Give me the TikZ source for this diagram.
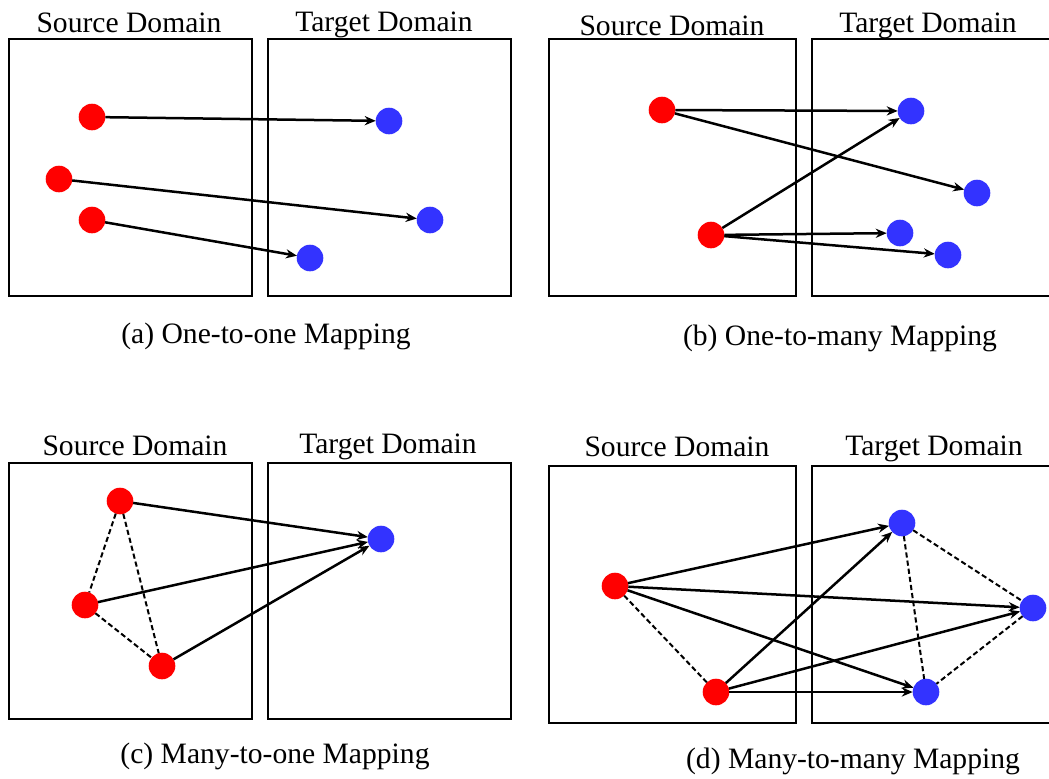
\documentclass[tikz,border=0pt]{standalone}
\usepackage{fontspec}
\setmainfont{Liberation Serif}
\usetikzlibrary{arrows.meta}
\definecolor{srcred}{RGB}{255,0,0}
\definecolor{tgtblue}{RGB}{51,51,255}

\begin{document}
\begin{tikzpicture}[
	x=0.5pt, y=-0.5pt,
	font=\fontsize{14.8}{17}\selectfont,
	domain box/.style = {draw, line width=0.7pt},
	src dot/.style = {circle, fill=srcred, minimum size=13.3pt,
	                  inner sep=0pt, outer sep=0pt},
	tgt dot/.style = {circle, fill=tgtblue, minimum size=13.3pt,
	                  inner sep=0pt, outer sep=0pt},
	map arrow/.style = {-{Stealth[length=5.5pt,width=4.6pt]}, line width=1.25pt},
	link line/.style = {dash pattern=on 2.6pt off 1.5pt, line width=1pt},
	title/.style = {anchor=base, inner sep=0pt}
	]
\useasboundingbox (0,0) rectangle (1049,778);

% (a) one-to-one
\draw[domain box] (9,39) rectangle (252,296);
\draw[domain box] (268,39) rectangle (511,296);
\node[title] (a-src) at (129,32) {Source Domain};
\node[title] (a-tgt) at (384,31) {Target Domain};
\node[title] (a-cap) at (266,343) {(a) One-to-one Mapping};
\node[src dot] (a-s1) at (92,117) {};
\node[src dot] (a-s2) at (59,179) {};
\node[src dot] (a-s3) at (92,220) {};
\node[tgt dot] (a-t1) at (389,121) {};
\node[tgt dot] (a-t2) at (430,220) {};
\node[tgt dot] (a-t3) at (310,258) {};
\draw[map arrow] (a-s1) -- (a-t1);
\draw[map arrow] (a-s2) -- (a-t2);
\draw[map arrow] (a-s3) -- (a-t3);

% (b) one-to-many
\draw[domain box] (549,39) rectangle (796,296);
\draw[domain box] (1052,39) -- (812,39) -- (812,296) -- (1052,296);
\node[title] (b-src) at (672,35) {Source Domain};
\node[title] (b-tgt) at (928,32) {Target Domain};
\node[title] (b-cap) at (840,345) {(b) One-to-many Mapping};
\node[src dot] (b-s1) at (662,110) {};
\node[src dot] (b-s2) at (711,235) {};
\node[tgt dot] (b-t1) at (911,111) {};
\node[tgt dot] (b-t2) at (977,193) {};
\node[tgt dot] (b-t3) at (900,233) {};
\node[tgt dot] (b-t4) at (948,255) {};
\draw[map arrow] (b-s1) -- (b-t1);
\draw[map arrow] (b-s1) -- (b-t2);
\draw[map arrow] (b-s2) -- (b-t1);
\draw[map arrow] (b-s2) -- (b-t3);
\draw[map arrow] (b-s2) -- (b-t4);

% (c) many-to-one
\draw[domain box] (9,463) rectangle (252,719);
\draw[domain box] (268,463) rectangle (511,719);
\node[title] (c-src) at (135,455) {Source Domain};
\node[title] (c-tgt) at (388,453) {Target Domain};
\node[title] (c-cap) at (275,763) {(c) Many-to-one Mapping};
\node[src dot] (c-s1) at (120,501) {};
\node[src dot] (c-s2) at (85,605) {};
\node[src dot] (c-s3) at (162,666) {};
\node[tgt dot] (c-t1) at (381,539) {};
\draw[link line] (c-s1) -- (c-s2);
\draw[link line] (c-s1) -- (c-s3);
\draw[link line] (c-s2) -- (c-s3);
\draw[map arrow] (c-s1) -- (c-t1);
\draw[map arrow] (c-s2) -- (c-t1);
\draw[map arrow] (c-s3) -- (c-t1);

% (d) many-to-many
\draw[domain box] (549,466) rectangle (796,723);
\draw[domain box] (1052,466) -- (812,466) -- (812,723) -- (1052,723);
\node[title] (d-src) at (677,456) {Source Domain};
\node[title] (d-tgt) at (934,455) {Target Domain};
\node[title] (d-cap) at (853,768) {(d) Many-to-many Mapping};
\node[src dot] (d-s1) at (615,586) {};
\node[src dot] (d-s2) at (716,692) {};
\node[tgt dot] (d-t1) at (902,523) {};
\node[tgt dot] (d-t2) at (1033,608) {};
\node[tgt dot] (d-t3) at (926,692) {};
\draw[link line] (d-s1) -- (d-s2);
\draw[link line] (d-t1) -- (d-t2);
\draw[link line] (d-t1) -- (d-t3);
\draw[link line] (d-t2) -- (d-t3);
\draw[map arrow] (d-s1) -- (d-t1);
\draw[map arrow] (d-s1) -- (d-t2);
\draw[map arrow] (d-s1) -- (d-t3);
\draw[map arrow] (d-s2) -- (d-t1);
\draw[map arrow] (d-s2) -- (d-t2);
\draw[map arrow] (d-s2) -- (d-t3);
\end{tikzpicture}
\end{document}
